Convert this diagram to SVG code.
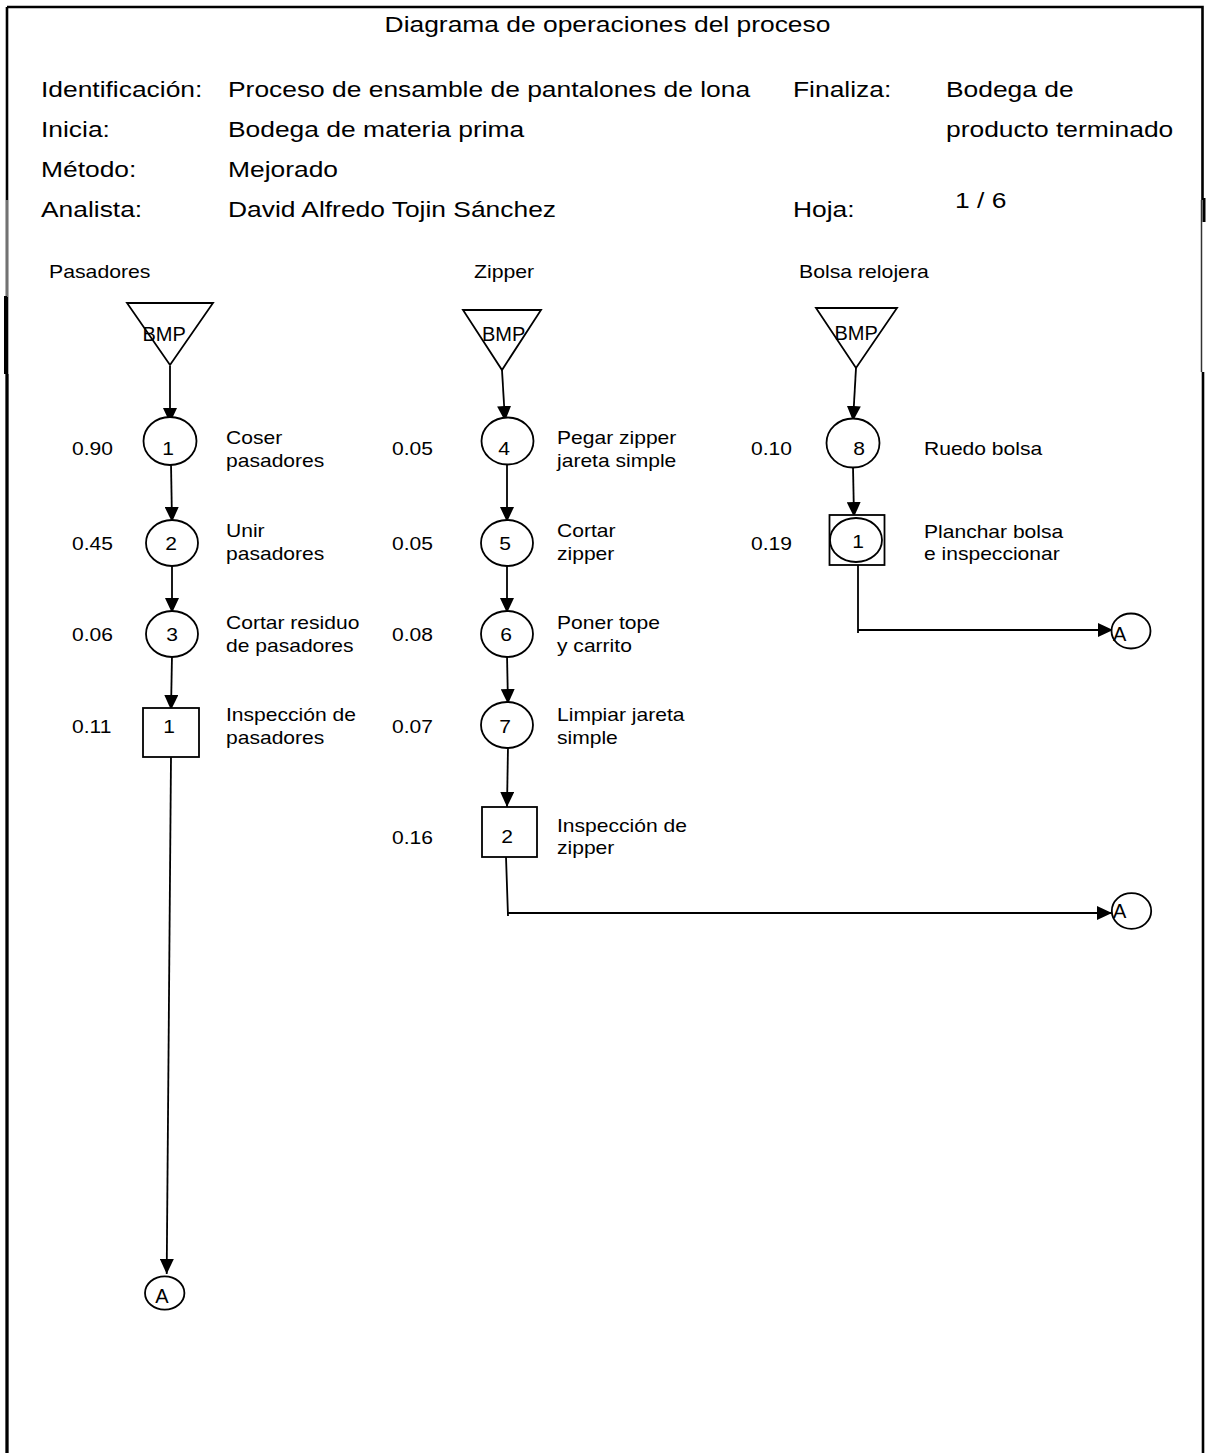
<svg xmlns="http://www.w3.org/2000/svg" width="1207" height="1453" viewBox="0 0 1207 1453">
<style>
text{font-family:"Liberation Sans",Arial,sans-serif;fill:#000}
.h{font-size:22px}
.s{font-size:18px}
.a{font-size:20px}
.m{text-anchor:middle}
.shape{fill:#fff;stroke:#000;stroke-width:1.8}
.ln{fill:none;stroke:#000;stroke-width:1.8}
.fr{fill:none;stroke:#000;stroke-width:2.6}
</style>
<defs>
<marker id="ar" viewBox="0 0 15 14" refX="15" refY="7" markerWidth="15" markerHeight="14" markerUnits="userSpaceOnUse" orient="auto"><path d="M0,0 L15,7 L0,14 z" fill="#000"/></marker>
</defs>
<rect width="1207" height="1453" fill="#fff"/>
<g id="frame">
<path class="fr" d="M7,1453 L7,200 M7,7 L1202.5,7 L1202.5,200 M1203,372 L1203,1453 M7,7 L7,200"/>
<path d="M7,200 L7,297" stroke="#999" stroke-width="1.5"/>
<path d="M5.5,296 L5.5,374 M7,374 L7,1453" stroke="#000" stroke-width="3"/>
<path d="M1204,198 L1204,222" stroke="#000" stroke-width="3"/>
<path d="M1201.5,200 L1201.5,372" stroke="#333" stroke-width="1.5"/>
</g>
<g id="header">
<text class="h m" transform="translate(607.5,32) scale(1.2,1)">Diagrama de operaciones del proceso</text>
<text class="h" transform="translate(41,97) scale(1.2,1)">Identificación:</text>
<text class="h" transform="translate(228,97) scale(1.2,1)">Proceso de ensamble de pantalones de lona</text>
<text class="h" transform="translate(793,97) scale(1.2,1)">Finaliza:</text>
<text class="h" transform="translate(946,97) scale(1.2,1)">Bodega de</text>
<text class="h" transform="translate(41,137) scale(1.2,1)">Inicia:</text>
<text class="h" transform="translate(228,137) scale(1.2,1)">Bodega de materia prima</text>
<text class="h" transform="translate(946,137) scale(1.2,1)">producto terminado</text>
<text class="h" transform="translate(41,177) scale(1.2,1)">Método:</text>
<text class="h" transform="translate(228,177) scale(1.2,1)">Mejorado</text>
<text class="h" transform="translate(41,217) scale(1.2,1)">Analista:</text>
<text class="h" transform="translate(228,217) scale(1.2,1)">David Alfredo Tojin Sánchez</text>
<text class="h" transform="translate(793,217) scale(1.2,1)">Hoja:</text>
<text class="h" transform="translate(955,208) scale(1.2,1)">1 / 6</text>
<text class="s" transform="translate(49,278) scale(1.18,1)">Pasadores</text>
<text class="s" transform="translate(474,278) scale(1.18,1)">Zipper</text>
<text class="s" transform="translate(799,278) scale(1.18,1)">Bolsa relojera</text>
</g>
<g id="connectors">
<path class="ln" d="M170,366 L170,423" marker-end="url(#ar)"/>
<path class="ln" d="M171,463 L172,522" marker-end="url(#ar)"/>
<path class="ln" d="M172,564 L172,613" marker-end="url(#ar)"/>
<path class="ln" d="M172,655 L171,710" marker-end="url(#ar)"/>
<path class="ln" d="M171,757 L166.7,1274" marker-end="url(#ar)"/>
<path class="ln" d="M502,370 L505,421" marker-end="url(#ar)"/>
<path class="ln" d="M507,462 L507,522" marker-end="url(#ar)"/>
<path class="ln" d="M507,564 L507,613" marker-end="url(#ar)"/>
<path class="ln" d="M507,655 L508,704" marker-end="url(#ar)"/>
<path class="ln" d="M508,746 L507,807" marker-end="url(#ar)"/>
<path class="ln" d="M506,857 L508,916 M507,913 L1112,913" marker-end="url(#ar)"/>
<path class="ln" d="M856,368 L853,421" marker-end="url(#ar)"/>
<path class="ln" d="M853,467 L854,517" marker-end="url(#ar)"/>
<path class="ln" d="M858,565 L858,633 M858,630 L1113,630" marker-end="url(#ar)"/>
</g>
<g id="bmp1"><polygon class="shape" points="127,303 213,303 170,365"/><text class="a" x="142.5" y="341">BMP</text></g>
<g id="bmp2"><polygon class="shape" points="463,310 541,310 502,370"/><text class="a" x="482" y="341">BMP</text></g>
<g id="bmp3"><polygon class="shape" points="816,308 897,308 856,368"/><text class="a" x="834.5" y="340">BMP</text></g>

<g id="op1"><ellipse class="shape" cx="170" cy="441" rx="26.5" ry="24"/><text class="s m" transform="translate(168,455) scale(1.17,1)">1</text>
<text class="s" transform="translate(72,455) scale(1.17,1)">0.90</text>
<text class="s" transform="translate(226,444) scale(1.17,1)">Coser<tspan x="0" dy="23">pasadores</tspan></text></g>
<g id="op2"><ellipse class="shape" cx="172" cy="543" rx="26" ry="23"/><text class="s m" transform="translate(171,550) scale(1.17,1)">2</text>
<text class="s" transform="translate(72,550) scale(1.17,1)">0.45</text>
<text class="s" transform="translate(226,537) scale(1.17,1)">Unir<tspan x="0" dy="23">pasadores</tspan></text></g>
<g id="op3"><ellipse class="shape" cx="172" cy="634" rx="26" ry="23"/><text class="s m" transform="translate(172,641) scale(1.17,1)">3</text>
<text class="s" transform="translate(72,641) scale(1.17,1)">0.06</text>
<text class="s" transform="translate(226,629) scale(1.17,1)">Cortar residuo<tspan x="0" dy="23">de pasadores</tspan></text></g>
<g id="insp1"><rect class="shape" x="143" y="708" width="56" height="49"/><text class="s m" transform="translate(169,733) scale(1.17,1)">1</text>
<text class="s" transform="translate(72,733) scale(1.17,1)">0.11</text>
<text class="s" transform="translate(226,721) scale(1.17,1)">Inspección de<tspan x="0" dy="23">pasadores</tspan></text></g>
<g id="connA1"><ellipse class="shape" cx="164.7" cy="1293" rx="19.7" ry="16.7"/><text class="a m" x="162" y="1303">A</text></g>

<g id="op4"><ellipse class="shape" cx="507.5" cy="441" rx="26" ry="23.5"/><text class="s m" transform="translate(504,455) scale(1.17,1)">4</text>
<text class="s" transform="translate(392,455) scale(1.17,1)">0.05</text>
<text class="s" transform="translate(557,444) scale(1.17,1)">Pegar zipper<tspan x="0" dy="23">jareta simple</tspan></text></g>
<g id="op5"><ellipse class="shape" cx="507" cy="543" rx="26" ry="23"/><text class="s m" transform="translate(505,550) scale(1.17,1)">5</text>
<text class="s" transform="translate(392,550) scale(1.17,1)">0.05</text>
<text class="s" transform="translate(557,537) scale(1.17,1)">Cortar<tspan x="0" dy="23">zipper</tspan></text></g>
<g id="op6"><ellipse class="shape" cx="507" cy="634" rx="26" ry="23"/><text class="s m" transform="translate(506,641) scale(1.17,1)">6</text>
<text class="s" transform="translate(392,641) scale(1.17,1)">0.08</text>
<text class="s" transform="translate(557,629) scale(1.17,1)">Poner tope<tspan x="0" dy="23">y carrito</tspan></text></g>
<g id="op7"><ellipse class="shape" cx="507" cy="725" rx="26" ry="23"/><text class="s m" transform="translate(505,733) scale(1.17,1)">7</text>
<text class="s" transform="translate(392,733) scale(1.17,1)">0.07</text>
<text class="s" transform="translate(557,721) scale(1.17,1)">Limpiar jareta<tspan x="0" dy="23">simple</tspan></text></g>
<g id="insp2"><rect class="shape" x="482" y="807" width="55" height="50"/><text class="s m" transform="translate(507,843) scale(1.17,1)">2</text>
<text class="s" transform="translate(392,844) scale(1.17,1)">0.16</text>
<text class="s" transform="translate(557,832) scale(1.17,1)">Inspección de<tspan x="0" dy="22">zipper</tspan></text></g>
<g id="connA2"><ellipse class="shape" cx="1131.5" cy="911" rx="19.7" ry="17.8"/><text class="a" x="1113" y="917.5">A</text></g>

<g id="op8"><ellipse class="shape" cx="853" cy="443" rx="26.5" ry="24.5"/><text class="s m" transform="translate(859,455) scale(1.17,1)">8</text>
<text class="s" transform="translate(751,455) scale(1.17,1)">0.10</text>
<text class="s" transform="translate(924,455) scale(1.17,1)">Ruedo bolsa</text></g>
<g id="comb1"><rect class="shape" x="829.5" y="515" width="55" height="50"/><ellipse class="shape" cx="856" cy="540" rx="26" ry="22"/><text class="s m" transform="translate(858,548) scale(1.17,1)">1</text>
<text class="s" transform="translate(751,550) scale(1.17,1)">0.19</text>
<text class="s" transform="translate(924,538) scale(1.17,1)">Planchar bolsa<tspan x="0" dy="22">e inspeccionar</tspan></text></g>
<g id="connA3"><ellipse class="shape" cx="1131" cy="631" rx="19.5" ry="17.5"/><text class="a" x="1113" y="640.5">A</text></g>
</svg>
